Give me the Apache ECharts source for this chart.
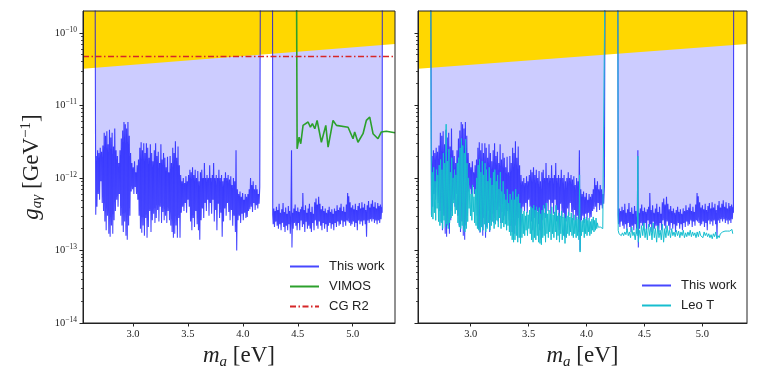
<!DOCTYPE html>
<html>
<head>
<meta charset="utf-8">
<script src="https://cdn.jsdelivr.net/npm/echarts@6.0.0/dist/echarts.min.js"></script>
<style>html,body{margin:0;background:#fff}#chart{width:758px;height:379px}</style>
</head>
<body>
<div id="chart"></div>
<script>
// tick positions
const xTicks = [3.0, 3.5, 4.0, 4.5, 5.0]
const yMajor = [1e-14, 1e-13, 1e-12, 1e-11, 1e-10]
const yMinor = []
for (let d = -14; d <= -11; d++) {
  for (let k = 2; k <= 9; k++) yMinor.push(k * Math.pow(10, d))
}

// upper excluded region (gold) lower boundary
const goldEdge = [[2.545, 3.2e-11], [5.385, 7.0e-11]]
// CG R2 limit
const cgR2 = [[2.545, 4.7e-11], [5.385, 4.7e-11]]

// This work, first window
const workSeg1 = [
  [2.655,1e-9],[2.658,1.25e-11],[2.661,3.1e-13],[2.666,2.0e-12],[2.672,4.0e-13],[2.678,2.4e-12],[2.684,6e-13],
  [2.690,2.2e-12],[2.696,5e-13],[2.702,2.6e-12],[2.708,9e-13],[2.714,2.3e-12],[2.720,4.5e-13],[2.726,2.8e-12],
  [2.732,3.5e-13],[2.738,4.2e-12],[2.744,2.5e-13],[2.750,3.8e-12],[2.756,1.9e-13],[2.762,4.4e-12],[2.768,3e-13],
  [2.774,2.9e-12],[2.780,1.7e-13],[2.786,4.6e-12],[2.792,1.55e-13],[2.798,3.6e-12],[2.804,2.2e-13],[2.810,4.2e-12],
  [2.816,1.7e-13],[2.822,2.7e-12],[2.828,2.6e-13],[2.834,4.8e-12],[2.840,3.5e-13],[2.846,2.4e-12],[2.852,5e-13],
  [2.858,2.0e-12],[2.864,4e-13],[2.870,1.6e-12],[2.876,6e-13],[2.882,2.4e-12],[2.888,3e-13],[2.894,3.5e-12],
  [2.900,2.2e-13],[2.906,4.5e-12],[2.912,1.8e-13],[2.918,5.9e-12],[2.924,2.5e-13],[2.930,5.5e-12],[2.936,1.6e-13],
  [2.942,4.8e-12],[2.948,1.4e-13],[2.954,5.9e-12],[2.960,2.2e-13],[2.966,3.8e-12],[2.972,3e-13],[2.978,2.2e-12],
  [2.984,6.5e-13],[2.990,1.6e-12],[2.996,7e-13],[3.002,1.4e-12],[3.008,6e-13],[3.014,1.7e-12],[3.020,7.5e-13],
  [3.026,1.2e-12],[3.032,6e-13],[3.038,1.5e-12],[3.044,5e-13],[3.050,1.8e-12],[3.056,3e-13],[3.062,2.6e-12],
  [3.068,2e-13],[3.074,3.1e-12],[3.080,1.75e-13],[3.086,2.4e-12],[3.092,2.2e-13],[3.098,3e-12],[3.104,1.6e-13],
  [3.110,2.2e-12],[3.116,2.8e-13],[3.122,3e-12],[3.128,1.5e-13],[3.134,2.6e-12],[3.140,2.1e-13],[3.146,1.9e-12],
  [3.152,3.5e-13],[3.158,2.9e-12],[3.164,1.8e-13],[3.170,2.2e-12],[3.176,2.6e-13],[3.182,1.7e-12],[3.188,3.2e-13],
  [3.194,2.4e-12],[3.200,2.4e-13],[3.206,3.0e-12],[3.212,2.8e-13],[3.218,2.0e-12],[3.224,3.6e-13],[3.230,2.3e-12],
  [3.236,2.5e-13],[3.242,1.6e-12],[3.248,4e-13],[3.254,2.9e-12],[3.260,2.4e-13],[3.266,1.8e-12],[3.272,3.4e-13],
  [3.278,2.2e-12],[3.284,2.6e-13],[3.290,1.9e-12],[3.296,3e-13],[3.302,1.4e-12],[3.308,2.4e-13],[3.314,1.95e-12],
  [3.320,3.5e-13],[3.326,1.2e-12],[3.332,2.6e-13],[3.338,2.0e-12],[3.344,2.2e-13],[3.350,1.6e-12],[3.356,1.8e-13],
  [3.362,2.6e-12],[3.368,1.5e-13],[3.374,2.2e-12],[3.380,1.7e-13],[3.386,3.2e-12],[3.392,2.2e-13],[3.398,1.9e-12],
  [3.404,1.5e-13],[3.410,2.7e-12],[3.416,2.8e-13],[3.422,1.5e-12],[3.428,1.5e-13],[3.434,1.1e-12],[3.440,3.3e-13],
  [3.446,9e-13],[3.452,4e-13],[3.458,1e-12],[3.464,3.5e-13],[3.470,8.5e-13],[3.476,4.5e-13],[3.482,1.05e-12],
  [3.488,3.3e-13],[3.494,9e-13],[3.500,5e-13],[3.506,1.1e-12],[3.512,4e-13],[3.518,1.3e-12],[3.524,2.5e-13],
  [3.530,1.2e-12],[3.536,1.9e-13],[3.542,1.4e-12],[3.548,2.8e-13],[3.554,1.1e-12],[3.560,2.1e-13],[3.566,1.3e-12],
  [3.572,3.5e-13],[3.578,1.0e-12],[3.584,2.3e-13],[3.590,1.25e-12],[3.596,1.9e-13],[3.602,9e-13],[3.608,1.4e-13],
  [3.614,1.2e-12],[3.620,2.6e-13],[3.626,1.3e-12],[3.632,3.8e-13],[3.638,1.0e-12],[3.644,2.8e-13],[3.650,1.6e-12],
  [3.656,4.5e-13],[3.662,1.0e-12],[3.668,3.5e-13],[3.674,1.1e-12],[3.680,5e-13],[3.686,1.0e-12],[3.692,3e-13],
  [3.698,1.5e-12],[3.704,4.5e-13],[3.710,1e-12],[3.716,3.2e-13],[3.722,1.1e-12],[3.728,5e-13],[3.734,1.6e-12],
  [3.740,2.5e-13],[3.746,1.0e-12],[3.752,3.6e-13],[3.758,1.1e-12],[3.764,1.9e-13],[3.770,1.0e-12],[3.776,4.4e-13],
  [3.782,1.3e-12],[3.788,2.8e-13],[3.794,1e-12],[3.800,3.3e-13],[3.806,1.1e-12],[3.812,1.55e-13],[3.818,9e-13],
  [3.824,2.5e-13],[3.830,1.0e-12],[3.836,3.8e-13],[3.842,1.2e-12],[3.848,3e-13],[3.854,1.0e-12],[3.860,4.5e-13],
  [3.866,1.1e-12],[3.872,3.4e-13],[3.878,9.5e-13],[3.884,2.6e-13],[3.890,1.05e-12],[3.896,3.6e-13],[3.902,8e-13],
  [3.908,2.2e-13],[3.914,1e-12],[3.920,3e-13],[3.926,9e-13],[3.932,1.8e-13],[3.938,2.4e-12],[3.944,1.0e-13],
  [3.950,7e-13],[3.956,2.6e-13],[3.962,6e-13],[3.968,3e-13],[3.974,6.5e-13],[3.980,2.4e-13],[3.986,5.5e-13],
  [3.992,3.2e-13],[3.998,6.2e-13],[4.004,2.6e-13],[4.010,5e-13],[4.016,3.3e-13],[4.022,6e-13],[4.028,2.8e-13],
  [4.034,5.5e-13],[4.040,2.9e-13],[4.046,6e-13],[4.052,3.5e-13],[4.058,7e-13],[4.064,3.7e-13],[4.070,1e-12],
  [4.076,4e-13],[4.082,8e-13],[4.088,3.4e-13],[4.094,9e-13],[4.100,4.5e-13],[4.106,7e-13],[4.112,3.6e-13],
  [4.118,8e-13],[4.124,4.2e-13],[4.130,7e-13],[4.136,3.8e-13],[4.142,6e-13],[4.148,4.4e-13],[4.154,7.5e-13],
  [4.16,1e-9]
]

// This work, second window
const workSeg2 = [
  [4.27,1e-9],[4.272,3.1e-13],[4.276,2.3e-13],[4.282,3.8e-13],[4.288,2.1e-13],[4.294,3.5e-13],[4.300,2.5e-13],
  [4.306,4.0e-13],[4.312,2.2e-13],[4.318,3.6e-13],[4.324,2.0e-13],[4.330,4.4e-13],[4.336,2.3e-13],[4.342,3.3e-13],
  [4.348,1.9e-13],[4.354,3.7e-13],[4.360,2.4e-13],[4.366,4.5e-13],[4.372,2.1e-13],[4.378,3.4e-13],[4.384,1.8e-13],
  [4.390,3.9e-13],[4.396,2.2e-13],[4.402,3.2e-13],[4.408,1.9e-13],[4.414,4.1e-13],[4.420,2.3e-13],[4.426,3.5e-13],
  [4.432,1.7e-13],[4.438,3.0e-13],[4.443,2.4e-12],[4.447,1.1e-13],[4.452,3.3e-13],[4.458,2.0e-13],[4.464,3.8e-13],
  [4.470,2.4e-13],[4.476,4.3e-13],[4.482,2.2e-13],[4.488,3.5e-13],[4.494,1.9e-13],[4.500,3.9e-13],[4.506,2.4e-13],
  [4.512,3.4e-13],[4.518,1.9e-13],[4.524,3.7e-13],[4.530,2.6e-13],[4.536,4.0e-13],[4.542,2.1e-13],[4.546,6.2e-13],
  [4.552,2.3e-13],[4.558,3.6e-13],[4.564,1.8e-13],[4.570,4.2e-13],[4.576,2.5e-13],[4.582,3.3e-13],[4.588,2.0e-13],
  [4.594,3.8e-13],[4.600,2.2e-13],[4.606,4.4e-13],[4.612,2.0e-13],[4.618,3.4e-13],[4.624,1.8e-13],[4.630,4.0e-13],
  [4.636,2.4e-13],[4.642,3.2e-13],[4.648,1.9e-13],[4.654,4.6e-13],[4.660,2.6e-13],[4.666,5.2e-13],[4.672,2.2e-13],
  [4.678,4.3e-13],[4.684,2.0e-13],[4.690,5.5e-13],[4.696,2.5e-13],[4.702,4.4e-13],[4.708,2.2e-13],[4.714,3.7e-13],
  [4.720,1.9e-13],[4.726,4.1e-13],[4.732,2.4e-13],[4.738,3.5e-13],[4.744,2.0e-13],[4.750,3.8e-13],[4.756,2.3e-13],
  [4.762,3.3e-13],[4.768,1.8e-13],[4.774,3.6e-13],[4.780,2.2e-13],[4.786,4.0e-13],[4.792,2.4e-13],[4.798,3.4e-13],
  [4.804,2.0e-13],[4.810,3.7e-13],[4.816,2.3e-13],[4.822,3.2e-13],[4.828,1.9e-13],[4.834,3.8e-13],[4.840,2.4e-13],
  [4.846,3.5e-13],[4.852,2.1e-13],[4.858,4.2e-13],[4.864,2.5e-13],[4.870,3.6e-13],[4.876,2.2e-13],[4.882,3.9e-13],
  [4.888,2.3e-13],[4.894,4.4e-13],[4.900,2.6e-13],[4.906,3.5e-13],[4.912,2.1e-13],[4.918,4.0e-13],[4.924,2.5e-13],
  [4.930,3.4e-13],[4.936,2.2e-13],[4.942,4.3e-13],[4.948,2.6e-13],[4.954,6.2e-13],[4.958,2.5e-13],[4.964,5.6e-13],
  [4.970,2.4e-13],[4.976,4.6e-13],[4.982,2.2e-13],[4.988,3.9e-13],[4.994,2.3e-13],[5.000,4.2e-13],[5.006,2.5e-13],
  [5.012,3.7e-13],[5.018,2.1e-13],[5.024,4.4e-13],[5.030,2.4e-13],[5.036,3.6e-13],[5.042,1.9e-13],[5.048,4.1e-13],
  [5.054,2.6e-13],[5.060,4.5e-13],[5.066,2.3e-13],[5.072,3.8e-13],[5.078,2.5e-13],[5.084,4.6e-13],[5.090,2.2e-13],
  [5.096,3.9e-13],[5.102,2.6e-13],[5.108,4.4e-13],[5.114,2.3e-13],[5.120,3.6e-13],[5.126,1.55e-13],[5.132,4.2e-13],
  [5.138,2.6e-13],[5.144,4.8e-13],[5.150,2.4e-13],[5.156,3.9e-13],[5.162,2.7e-13],[5.168,4.4e-13],[5.174,2.5e-13],
  [5.180,4.9e-13],[5.186,2.7e-13],[5.192,4.0e-13],[5.198,2.4e-13],[5.204,4.6e-13],[5.210,2.6e-13],[5.216,3.8e-13],
  [5.222,2.3e-13],[5.228,4.5e-13],[5.234,2.6e-13],[5.240,4.1e-13],[5.246,2.4e-13],[5.252,4.3e-13],[5.258,2.7e-13],
  [5.264,4.0e-13],[5.268,3.3e-13],[5.27,1e-9]
]

// VIMOS
const vimos = [
  [4.488,1e-9],[4.494,2.52e-12],[4.512,3.65e-12],[4.527,2.96e-12],[4.548,5.3e-12],[4.594,5.9e-12],[4.615,5.0e-12],
  [4.633,5.6e-12],[4.655,4.76e-12],[4.676,6.2e-12],[4.715,3.1e-12],[4.755,5.3e-12],[4.776,2.66e-12],[4.821,6.2e-12],
  [4.852,5.3e-12],[4.958,5.0e-12],[5.003,3.47e-12],[5.018,4.3e-12],[5.048,3.1e-12],[5.094,4.07e-12],[5.124,6.2e-12],
  [5.155,6.9e-12],[5.185,4.07e-12],[5.230,3.47e-12],[5.261,4.3e-12],[5.306,4.4e-12],[5.385,4.2e-12]
]

// Leo T, first window
const leoSeg1 = [
  [2.655,1e-9],[2.658,3.4e-12],[2.662,2.9e-13],[2.668,1.2e-12],[2.674,2.7e-13],[2.680,1.4e-12],[2.686,3.3e-13],
  [2.692,9e-13],[2.698,2.6e-13],[2.704,1.3e-12],[2.710,3.8e-13],[2.716,1.1e-12],[2.722,2.5e-13],[2.728,1.5e-12],
  [2.734,2.2e-13],[2.740,1.8e-12],[2.746,2.4e-13],[2.752,1.3e-12],[2.758,2.0e-13],[2.764,2.2e-12],[2.770,2.6e-13],
  [2.776,1.6e-12],[2.782,2.1e-13],[2.788,5.5e-12],[2.794,2.3e-13],[2.800,1.7e-12],[2.806,2.0e-13],[2.812,2.5e-12],
  [2.818,2.4e-13],[2.824,1.2e-12],[2.830,2.8e-13],[2.836,1.9e-12],[2.842,3.0e-13],[2.848,1.0e-12],[2.854,4.5e-13],
  [2.860,1.3e-12],[2.866,3.2e-13],[2.872,1.1e-12],[2.878,3.6e-13],[2.884,1.6e-12],[2.890,2.4e-13],[2.896,1.9e-12],
  [2.902,2.1e-13],[2.908,2.6e-12],[2.914,2.0e-13],[2.920,3.5e-12],[2.926,2.2e-13],[2.932,2.8e-12],[2.938,1.9e-13],
  [2.944,2.2e-12],[2.950,1.8e-13],[2.956,3.4e-12],[2.962,2.0e-13],[2.968,1.6e-12],[2.974,2.5e-13],[2.980,1.0e-12],
  [2.986,3.8e-13],[2.992,7e-13],[2.998,3.0e-13],[3.004,6e-13],[3.010,2.6e-13],[3.016,8e-13],[3.022,3.4e-13],
  [3.028,5.5e-13],[3.034,2.4e-13],[3.040,7e-13],[3.046,2.2e-13],[3.052,1.0e-12],[3.058,2.0e-13],[3.064,1.5e-12],
  [3.070,1.9e-13],[3.076,1.8e-12],[3.082,1.8e-13],[3.088,1.2e-12],[3.094,2.1e-13],[3.100,1.7e-12],[3.106,1.9e-13],
  [3.112,1.1e-12],[3.118,2.3e-13],[3.124,1.6e-12],[3.130,1.8e-13],[3.136,1.3e-12],[3.142,2.0e-13],[3.148,9e-13],
  [3.154,2.4e-13],[3.160,1.4e-12],[3.166,1.9e-13],[3.172,1.0e-12],[3.178,2.2e-13],[3.184,8e-13],[3.190,2.5e-13],
  [3.196,1.2e-12],[3.202,2.0e-13],[3.208,1.3e-12],[3.214,2.3e-13],[3.220,9e-13],[3.226,2.6e-13],[3.232,1.1e-12],
  [3.238,2.1e-13],[3.244,7e-13],[3.250,2.8e-13],[3.256,1.2e-12],[3.262,2.0e-13],[3.268,6.5e-13],[3.274,2.4e-13],
  [3.280,9e-13],[3.286,2.1e-13],[3.292,6e-13],[3.298,2.3e-13],[3.304,5e-13],[3.310,1.9e-13],[3.316,7e-13],
  [3.322,2.2e-13],[3.328,4.5e-13],[3.334,1.8e-13],[3.340,6e-13],[3.346,1.6e-13],[3.352,5e-13],[3.358,1.4e-13],
  [3.364,6.5e-13],[3.370,1.3e-13],[3.376,5e-13],[3.382,1.4e-13],[3.388,7e-13],[3.394,1.6e-13],[3.400,5.5e-13],
  [3.406,1.3e-13],[3.412,6e-13],[3.418,1.5e-13],[3.424,4.5e-13],[3.430,1.25e-13],[3.436,3.8e-13],[3.442,1.5e-13],
  [3.448,3.2e-13],[3.454,1.7e-13],[3.460,3.5e-13],[3.466,1.6e-13],[3.472,3.0e-13],[3.478,1.9e-13],[3.484,3.4e-13],
  [3.490,1.6e-13],[3.496,3.1e-13],[3.502,2.0e-13],[3.508,3.6e-13],[3.514,1.7e-13],[3.520,4.0e-13],[3.526,1.4e-13],
  [3.532,3.8e-13],[3.538,1.3e-13],[3.544,4.2e-13],[3.550,1.5e-13],[3.556,3.6e-13],[3.562,1.4e-13],[3.568,4.0e-13],
  [3.574,1.6e-13],[3.580,3.4e-13],[3.586,1.3e-13],[3.592,3.9e-13],[3.598,1.25e-13],[3.604,3.2e-13],[3.610,1.2e-13],
  [3.616,3.6e-13],[3.622,1.5e-13],[3.628,4.2e-13],[3.634,1.6e-13],[3.640,3.3e-13],[3.646,1.3e-13],[3.652,4.5e-13],
  [3.658,1.7e-13],[3.664,3.2e-13],[3.670,1.5e-13],[3.676,3.6e-13],[3.682,1.8e-13],[3.688,3.2e-13],[3.694,1.4e-13],
  [3.700,4.0e-13],[3.706,1.7e-13],[3.712,3.1e-13],[3.718,1.5e-13],[3.724,3.4e-13],[3.730,1.8e-13],[3.736,4.2e-13],
  [3.742,1.4e-13],[3.748,3.0e-13],[3.754,1.6e-13],[3.760,3.3e-13],[3.766,1.3e-13],[3.772,3.0e-13],[3.778,1.7e-13],
  [3.784,3.5e-13],[3.790,1.4e-13],[3.796,2.9e-13],[3.802,1.6e-13],[3.808,3.2e-13],[3.814,1.25e-13],[3.820,2.8e-13],
  [3.826,1.5e-13],[3.832,3.0e-13],[3.838,1.7e-13],[3.844,3.4e-13],[3.850,1.6e-13],[3.856,2.9e-13],[3.862,1.8e-13],
  [3.868,3.3e-13],[3.874,1.6e-13],[3.880,2.8e-13],[3.886,1.5e-13],[3.892,3.1e-13],[3.898,1.7e-13],[3.904,2.6e-13],
  [3.910,1.5e-13],[3.916,2.9e-13],[3.922,1.6e-13],[3.928,2.7e-13],[3.934,1.4e-13],[3.940,1.1e-12],[3.944,9.5e-14],
  [3.950,2.5e-13],[3.956,1.6e-13],[3.962,2.6e-13],[3.968,1.8e-13],[3.974,2.8e-13],[3.980,1.5e-13],[3.986,2.7e-13],
  [3.992,1.7e-13],[3.998,2.9e-13],[4.004,1.6e-13],[4.010,2.6e-13],[4.016,1.8e-13],[4.022,2.8e-13],[4.028,1.6e-13],
  [4.034,2.5e-13],[4.040,1.7e-13],[4.046,2.7e-13],[4.052,1.9e-13],[4.058,2.9e-13],[4.064,1.8e-13],[4.070,2.6e-13],
  [4.076,1.9e-13],[4.082,2.8e-13],[4.088,2.0e-13],[4.094,2.4e-13],[4.100,2.1e-13],[4.110,2.1e-13],[4.120,2.1e-13],
  [4.130,2.1e-13],[4.140,2.0e-13],[4.150,2.1e-13],[4.16,1e-9]
]

// Leo T, second window
const leoSeg2 = [
  [4.27,1e-9],[4.273,1.9e-13],[4.280,1.7e-13],[4.290,1.8e-13],[4.300,1.6e-13],[4.310,1.75e-13],[4.320,1.6e-13],
  [4.330,1.8e-13],[4.340,1.65e-13],[4.350,2.0e-13],[4.360,1.6e-13],[4.370,1.8e-13],[4.380,1.5e-13],[4.390,2.1e-13],
  [4.400,1.6e-13],[4.410,1.8e-13],[4.420,1.4e-13],[4.430,2.0e-13],[4.438,1.6e-13],[4.443,2.0e-12],[4.447,1.3e-13],
  [4.455,1.9e-13],[4.465,1.5e-13],[4.475,2.2e-13],[4.485,1.6e-13],[4.495,2.4e-13],[4.505,1.5e-13],[4.515,2.0e-13],
  [4.525,1.4e-13],[4.535,2.3e-13],[4.545,1.6e-13],[4.555,2.1e-13],[4.565,1.4e-13],[4.575,2.4e-13],[4.585,1.5e-13],
  [4.595,2.0e-13],[4.605,1.3e-13],[4.615,2.2e-13],[4.625,1.5e-13],[4.635,1.9e-13],[4.645,1.4e-13],[4.655,2.3e-13],
  [4.665,1.3e-13],[4.675,2.0e-13],[4.685,1.5e-13],[4.695,2.2e-13],[4.705,1.6e-13],[4.715,1.9e-13],[4.725,1.5e-13],
  [4.735,2.0e-13],[4.745,1.6e-13],[4.755,1.8e-13],[4.765,1.55e-13],[4.775,1.9e-13],[4.785,1.6e-13],[4.795,1.85e-13],
  [4.805,1.5e-13],[4.815,1.8e-13],[4.825,1.6e-13],[4.835,1.9e-13],[4.845,1.5e-13],[4.855,1.75e-13],[4.865,1.55e-13],
  [4.875,1.8e-13],[4.885,1.6e-13],[4.895,1.9e-13],[4.905,1.55e-13],[4.915,1.8e-13],[4.925,1.6e-13],[4.935,1.75e-13],
  [4.945,1.5e-13],[4.955,1.8e-13],[4.965,1.55e-13],[4.975,1.85e-13],[4.985,1.6e-13],[4.995,1.7e-13],[5.005,1.5e-13],
  [5.015,1.8e-13],[5.025,1.6e-13],[5.035,1.75e-13],[5.045,1.55e-13],[5.055,1.7e-13],[5.065,1.5e-13],[5.075,1.65e-13],
  [5.085,1.45e-13],[5.095,1.7e-13],[5.105,1.55e-13],[5.115,1.8e-13],[5.125,1.45e-13],[5.135,1.6e-13],[5.145,1.5e-13],
  [5.155,1.7e-13],[5.165,1.75e-13],[5.175,1.8e-13],[5.185,1.8e-13],[5.195,1.85e-13],[5.205,1.8e-13],[5.215,1.85e-13],
  [5.225,1.9e-13],[5.235,1.85e-13],[5.245,1.9e-13],[5.255,1.95e-13],[5.262,1.7e-13]
]

const workData = workSeg1.concat([null], workSeg2)
const leoData = leoSeg1.concat([null], leoSeg2)

const serif = 'Liberation Serif'
const sans = 'Liberation Sans'
const ink = '#222'
const blue = 'rgba(0,0,255,0.72)'

const myChart = echarts.init(document.getElementById('chart'))

const grids = [
  { left: 83, top: 11, width: 312, height: 312 },
  { left: 418, top: 11, width: 329, height: 312 }
]

const mathName = {
  m: { fontFamily: serif, fontStyle: 'italic', fontSize: 23, color: ink, lineHeight: 26 },
  sub: { fontFamily: serif, fontStyle: 'italic', fontSize: 15, color: ink, lineHeight: 12, verticalAlign: 'bottom' },
  t: { fontFamily: serif, fontSize: 23, color: ink, lineHeight: 26 },
  sup: { fontFamily: serif, fontSize: 15, color: ink, lineHeight: 12, verticalAlign: 'top' }
}

const xAxes = grids.map((g, i) => ({
  type: 'value', gridIndex: i, min: 2.545, max: 5.385, z: 10,
  axisLine: { show: true, lineStyle: { color: ink, width: 1 } },
  axisTick: { show: true, length: 3.5, customValues: xTicks, lineStyle: { color: ink } },
  axisLabel: {
    customValues: xTicks, formatter: v => v.toFixed(1), margin: 6,
    fontFamily: serif, fontSize: 10.5, color: ink
  },
  splitLine: { show: false },
  name: '{m|m}{sub|a}{t| [eV]}', nameLocation: 'middle', nameGap: 20,
  nameTextStyle: { rich: mathName }
}))

const yAxes = []
grids.forEach((g, i) => {
  yAxes.push({
    type: 'log', gridIndex: i, position: 'left', min: 1e-14, max: 2e-10, logBase: 10, z: 10,
    axisLine: { show: true, lineStyle: { color: ink, width: 1 } },
    axisTick: { show: true, length: 3.5, customValues: yMajor, lineStyle: { color: ink } },
    axisLabel: {
      show: i === 0, customValues: yMajor, margin: 6,
      formatter: v => '{a|10}{b|−' + Math.abs(Math.round(Math.log10(v))) + '}',
      rich: {
        a: { fontFamily: serif, fontSize: 10.5, color: ink, lineHeight: 14 },
        b: { fontFamily: serif, fontSize: 7.5, color: ink, lineHeight: 8, verticalAlign: 'top' }
      }
    },
    splitLine: { show: false },
    name: i === 0 ? '{m|g}{sub|aγ}{t| [GeV}{sup|−1}{t|]}' : '',
    nameLocation: 'middle', nameRotate: 90, nameGap: 38,
    nameTextStyle: { rich: mathName }
  })
  // minor ticks
  yAxes.push({
    type: 'log', gridIndex: i, position: 'left', offset: 0, min: 1e-14, max: 2e-10, logBase: 10, z: 10,
    axisLine: { show: false },
    axisTick: { show: true, length: 2, customValues: yMinor, lineStyle: { color: ink, width: 0.8 } },
    axisLabel: { show: false },
    splitLine: { show: false }
  })
})

const series = []
grids.forEach((g, i) => {
  const ax = { xAxisIndex: i, yAxisIndex: 2 * i, symbol: 'none', silent: true, animation: false }
  // lavender fill from the limit curve up to the top of the axis
  series.push(Object.assign({}, ax, {
    name: 'band', type: 'line', z: 1, data: workData,
    lineStyle: { width: 0 }, areaStyle: { color: '#ccccff', opacity: 1, origin: 'end' }
  }))
  series.push(Object.assign({}, ax, {
    name: 'excluded', type: 'line', z: 3, data: goldEdge,
    lineStyle: { width: 0 }, areaStyle: { color: '#ffd700', opacity: 1, origin: 'end' }
  }))
  series.push(Object.assign({}, ax, {
    name: 'This work', type: 'line', z: 4, data: workData,
    lineStyle: { color: blue, width: 1.1 }, itemStyle: { color: blue }
  }))
  if (i === 0) {
    series.push(Object.assign({}, ax, {
      name: 'VIMOS', type: 'line', z: 5, data: vimos,
      lineStyle: { color: '#2ca02c', width: 1.6 }, itemStyle: { color: '#2ca02c' }
    }))
    series.push(Object.assign({}, ax, {
      name: 'CG R2', type: 'line', z: 6, data: cgR2,
      lineStyle: { color: '#d62728', width: 1.5, type: [6, 2.5, 1.5, 2.5] }, itemStyle: { color: '#d62728' }
    }))
  } else {
    series.push(Object.assign({}, ax, {
      name: 'Leo T', type: 'line', z: 5, data: leoData,
      lineStyle: { color: '#17becf', width: 1 }, itemStyle: { color: '#17becf' }
    }))
  }
})

const legendBase = {
  orient: 'vertical', itemWidth: 29, itemHeight: 12, itemGap: 7,
  itemStyle: { opacity: 0 },
  textStyle: { fontFamily: sans, fontSize: 13, lineHeight: 12, color: ink, padding: [0, 0, 0, 5] },
  selectedMode: false, backgroundColor: 'transparent', padding: 0
}

myChart.setOption({
  backgroundColor: '#fff',
  animation: false,
  grid: grids.map(g => Object.assign({ show: true, z: 10, borderColor: ink, borderWidth: 1, backgroundColor: 'transparent' }, g)),
  xAxis: xAxes,
  yAxis: yAxes,
  legend: [
    Object.assign({}, legendBase, { data: ['This work', 'VIMOS', 'CG R2'], left: 289, top: 260 }),
    Object.assign({}, legendBase, { data: ['This work', 'Leo T'], left: 641, top: 279 })
  ],
  series: series
})
</script>
</body>
</html>
